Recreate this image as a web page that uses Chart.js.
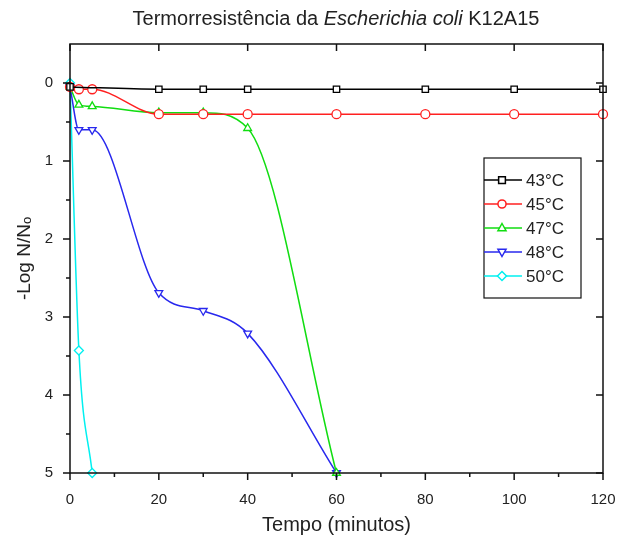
<!DOCTYPE html>
<html>
<head>
<meta charset="utf-8">
<script src="https://cdn.jsdelivr.net/npm/chart.js@4/dist/chart.umd.min.js"></script>
<style>
  html, body { margin: 0; padding: 0; background: #fff; }
</style>
</head>
<body>
<canvas id="thermoChart" width="618" height="537"></canvas>
<script>
// temperatures and survival readings (-log N/N0) per time in minutes
const seriesLabels = ["43°C", "45°C", "47°C", "48°C", "50°C"];

const time43 = [0, 20, 30, 40, 60, 80, 100, 120];
const logN43 = [0.05, 0.08, 0.08, 0.08, 0.08, 0.08, 0.08, 0.08];

const time45 = [0, 2, 5, 20, 30, 40, 60, 80, 100, 120];
const logN45 = [0.05, 0.08, 0.08, 0.4, 0.4, 0.4, 0.4, 0.4, 0.4, 0.4];

const time47 = [0, 2, 5, 20, 30, 40, 60];
const logN47 = [0.05, 0.28, 0.3, 0.38, 0.38, 0.58, 5];

const time48 = [0, 2, 5, 20, 30, 40, 60];
const logN48 = [0.05, 0.6, 0.6, 2.69, 2.92, 3.21, 5];

const time50 = [0, 2, 5];
const logN50 = [0, 3.43, 5];

const xTicks = [0, 20, 40, 60, 80, 100, 120];
const yTicks = [0, 1, 2, 3, 4, 5];

const toPoints = (xs, ys) => xs.map((x, i) => ({ x: x, y: ys[i] }));

const colors = ["#000000", "#ff2020", "#11dd11", "#2828ee", "#00f0f0"];
const styles = ["rect", "circle", "triangle", "triangle", "rectRot"];
const rotations = [0, 0, 0, 180, 0];
const allData = [
  toPoints(time43, logN43),
  toPoints(time45, logN45),
  toPoints(time47, logN47),
  toPoints(time48, logN48),
  toPoints(time50, logN50),
];
const FONT = "'Liberation Sans', Arial, sans-serif";

function drawMarker(ctx, style, rot, x, y, r) {
  ctx.beginPath();
  if (style === "rect") {
    const s = r * 0.75;
    ctx.rect(x - s, y - s, 2 * s, 2 * s);
  } else if (style === "circle") {
    ctx.arc(x, y, r * 0.9, 0, Math.PI * 2);
  } else if (style === "triangle") {
    const d = rot === 180 ? -1 : 1;
    ctx.moveTo(x, y - d * r);
    ctx.lineTo(x + r * 0.9, y + d * r * 0.6);
    ctx.lineTo(x - r * 0.9, y + d * r * 0.6);
    ctx.closePath();
  } else {
    ctx.moveTo(x, y - r);
    ctx.lineTo(x + r, y);
    ctx.lineTo(x, y + r);
    ctx.lineTo(x - r, y);
    ctx.closePath();
  }
  ctx.fillStyle = "#fff";
  ctx.fill();
  ctx.stroke();
}

// title with the species name in italics
const titlePlugin = {
  id: "mixedTitle",
  afterDraw(chart) {
    const ctx = chart.ctx;
    const parts = [
      ["Termorresistência da ", "normal"],
      ["Escherichia coli", "italic"],
      [" K12A15", "normal"],
    ];
    ctx.save();
    ctx.fillStyle = "#222";
    ctx.textBaseline = "middle";
    let total = 0;
    parts.forEach(p => {
      ctx.font = p[1] + " 20px " + FONT;
      total += ctx.measureText(p[0]).width;
    });
    let x = 336 - total / 2;
    parts.forEach(p => {
      ctx.font = p[1] + " 20px " + FONT;
      ctx.fillText(p[0], x, 19);
      x += ctx.measureText(p[0]).width;
    });
    ctx.restore();
  },
};

// box frame plus major/minor tick marks
const framePlugin = {
  id: "frameTicks",
  afterDraw(chart) {
    const { ctx, chartArea: a } = chart;
    const xs = chart.scales.x, ys = chart.scales.y;
    ctx.save();
    ctx.strokeStyle = "#111";
    ctx.lineWidth = 1.5;
    ctx.strokeRect(a.left, a.top, a.right - a.left, a.bottom - a.top);
    ctx.beginPath();
    for (let t = 0; t <= 120; t += 10) {
      const px = xs.getPixelForValue(t);
      const major = t % 20 === 0;
      const len = major ? 7 : 4;
      ctx.moveTo(px, a.bottom);
      ctx.lineTo(px, a.bottom + len);
      if (major) {
        ctx.moveTo(px, a.top);
        ctx.lineTo(px, a.top + len);
      }
    }
    for (let v = 0; v <= 5; v += 0.5) {
      const py = ys.getPixelForValue(v);
      const major = Number.isInteger(v);
      const len = major ? 7 : 4;
      ctx.moveTo(a.left, py);
      ctx.lineTo(a.left - len, py);
      if (major) {
        ctx.moveTo(a.right, py);
        ctx.lineTo(a.right - len, py);
      }
    }
    ctx.stroke();
    ctx.restore();
  },
};

const legendPlugin = {
  id: "legendBox",
  afterDraw(chart) {
    const ctx = chart.ctx;
    const x0 = 484, y0 = 158, w = 97, h = 140;
    ctx.save();
    ctx.fillStyle = "#fff";
    ctx.fillRect(x0, y0, w, h);
    ctx.strokeStyle = "#111";
    ctx.lineWidth = 1.2;
    ctx.strokeRect(x0, y0, w, h);
    chart.data.datasets.forEach((ds, i) => {
      const y = 180 + i * 24;
      ctx.strokeStyle = ds.borderColor;
      ctx.lineWidth = 1.5;
      ctx.beginPath();
      ctx.moveTo(x0, y);
      ctx.lineTo(x0 + 38, y);
      ctx.stroke();
      drawMarker(ctx, styles[i], rotations[i], x0 + 18, y, 4.5);
      ctx.fillStyle = "#222";
      ctx.font = "17px " + FONT;
      ctx.textBaseline = "middle";
      ctx.fillText(ds.label, x0 + 42, y + 1);
    });
    ctx.restore();
  },
};

const ctx = document.getElementById("thermoChart").getContext("2d");
const thermoChart = new Chart(ctx, {
  type: "line",
  data: {
    datasets: seriesLabels.map((label, i) => ({
      label: label,
      data: allData[i],
      borderColor: colors[i],
      backgroundColor: "#ffffff",
      borderWidth: 1.5,
      pointStyle: styles[i],
      pointRotation: rotations[i],
      pointRadius: 4.5,
      pointBorderWidth: 1.3,
      cubicInterpolationMode: "monotone",
      clip: 8,
    })),
  },
  options: {
    responsive: false,
    animation: false,
    layout: { padding: { top: 44, right: 15, left: 0, bottom: 0 } },
    plugins: {
      legend: { display: false },
      title: { display: false },
      tooltip: { enabled: false },
    },
    scales: {
      x: {
        type: "linear",
        min: 0,
        max: 120,
        afterFit: s => { s.height = 64; s.paddingRight = 0; s.paddingLeft = 0; },
        afterBuildTicks: s => { s.ticks = xTicks.map(v => ({ value: v })); },
        grid: { display: false },
        border: { display: false },
        ticks: {
          padding: 10,
          color: "#222",
          font: { family: FONT, size: 15 },
          maxRotation: 0,
        },
        title: {
          display: true,
          text: "Tempo (minutos)",
          color: "#222",
          font: { family: FONT, size: 20 },
          padding: { bottom: 0 },
        },
      },
      y: {
        type: "linear",
        reverse: true,
        min: -0.5,
        max: 5,
        afterFit: s => { s.width = 70; },
        afterBuildTicks: s => { s.ticks = yTicks.map(v => ({ value: v })); },
        grid: { display: false },
        border: { display: false },
        ticks: {
          padding: 9,
          color: "#222",
          font: { family: FONT, size: 15 },
        },
        title: {
          display: true,
          text: "-Log N/N\u2092",
          color: "#222",
          font: { family: FONT, size: 19 },
          padding: { top: 13 },
        },
      },
    },
  },
  plugins: [titlePlugin, framePlugin, legendPlugin],
});
</script>
</body>
</html>
